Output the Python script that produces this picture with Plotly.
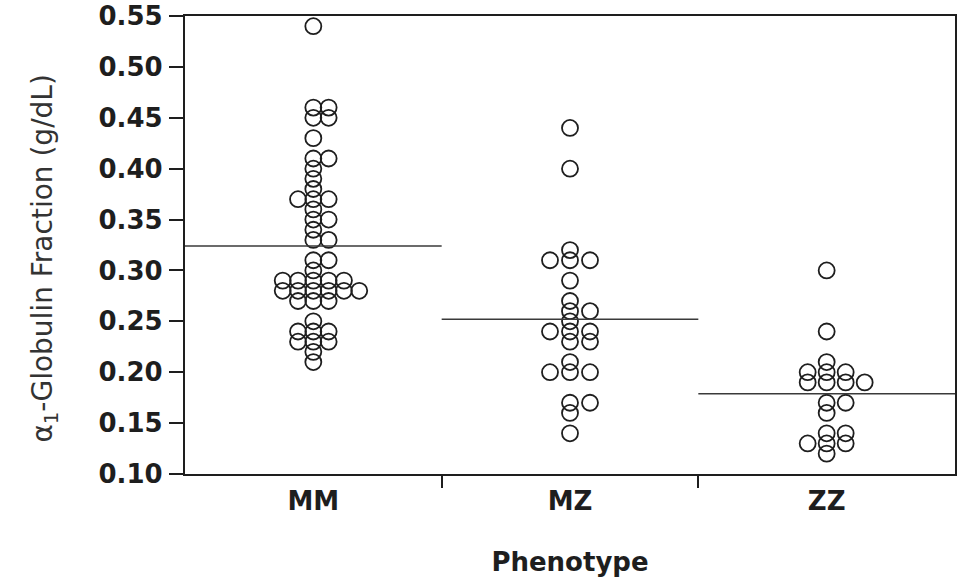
import plotly.graph_objects as go

# ---- data ----
phenotypes = ["MM", "MZ", "ZZ"]
mm_values = [0.54, 0.46, 0.46, 0.45, 0.45, 0.43, 0.41, 0.41, 0.40, 0.39, 0.38,
             0.37, 0.37, 0.37, 0.36, 0.35, 0.35, 0.34, 0.33, 0.33, 0.31, 0.31,
             0.30, 0.29, 0.29, 0.29, 0.29, 0.29, 0.28, 0.28, 0.28, 0.28, 0.28,
             0.28, 0.27, 0.27, 0.27, 0.25, 0.24, 0.24, 0.24, 0.23, 0.23, 0.23,
             0.22, 0.21]
mz_values = [0.44, 0.40, 0.32, 0.31, 0.31, 0.31, 0.29, 0.27, 0.26, 0.26, 0.25,
             0.24, 0.24, 0.24, 0.23, 0.23, 0.21, 0.20, 0.20, 0.20, 0.17, 0.17,
             0.16, 0.14]
zz_values = [0.30, 0.24, 0.21, 0.20, 0.20, 0.20, 0.19, 0.19, 0.19, 0.19, 0.17,
             0.17, 0.16, 0.14, 0.14, 0.13, 0.13, 0.13, 0.12]
y_ticks = [0.10, 0.15, 0.20, 0.25, 0.30, 0.35, 0.40, 0.45, 0.50, 0.55]
y_title = "α<sub>1</sub>-Globulin Fraction (g/dL)"
x_title = "Phenotype"

groups = [mm_values, mz_values, zz_values]

# ---- layout / style constants ----
PLOT_W = 770.0                     # px width of plotting area
PX_PER_UNIT = PLOT_W / 3.0
SPREAD_PX = [15.3, 20.0, 19.0]     # horizontal spacing of tied points per group
INK = "#1e1e1e"
FONT = "DejaVu Sans"


def swarm_columns(vals):
    """Spread identical values sideways: 0, +1, -1, +2, -2, +3 ..."""
    seen = {}
    cols = []
    for v in vals:
        k = seen.get(v, 0)
        seen[v] = k + 1
        c = (k + 1) // 2
        cols.append(c if k % 2 == 1 else -c)
    return cols


fig = go.Figure()

for gi, vals in enumerate(groups):
    cols = swarm_columns(vals)
    step = SPREAD_PX[gi] / PX_PER_UNIT
    xs = [gi + 0.5 + c * step for c in cols]
    fig.add_trace(go.Scatter(
        x=xs, y=vals, mode="markers",
        marker=dict(symbol="circle-open", size=16, color=INK,
                    line=dict(width=1.8, color=INK)),
        hoverinfo="y", showlegend=False, cliponaxis=False))
    mean = sum(vals) / len(vals)
    fig.add_trace(go.Scatter(
        x=[gi, gi + 1], y=[mean, mean], mode="lines",
        line=dict(color="#3a3a3a", width=1.5),
        hoverinfo="skip", showlegend=False))

fig.update_layout(
    width=967, height=577,
    margin=dict(l=185, r=12, t=16, b=103, autoexpand=False),
    paper_bgcolor="white", plot_bgcolor="white",
    font=dict(family=FONT, color=INK),
    xaxis=dict(
        range=[0, 3], showgrid=False, zeroline=False, automargin=False,
        showline=True, linewidth=2.2, linecolor=INK, mirror=True,
        tickmode="array", tickvals=[0.5, 1.5, 2.5], ticktext=phenotypes,
        ticks="", ticklabelstandoff=3,
        tickfont=dict(family=FONT, size=26, weight="bold", color=INK),
        minor=dict(tickmode="array", tickvals=[1, 2], ticks="outside",
                   ticklen=12, tickwidth=2, tickcolor=INK),
        title=dict(text=x_title, standoff=42,
                   font=dict(family=FONT, size=26, weight="bold", color=INK)),
    ),
    yaxis=dict(
        range=[0.10, 0.55], showgrid=False, zeroline=False, automargin=False,
        showline=True, linewidth=2.2, linecolor=INK, mirror=True,
        tickmode="array", tickvals=y_ticks, tickformat=".2f",
        ticks="outside", ticklen=14, tickwidth=2, tickcolor=INK,
        ticklabelstandoff=1,
        tickfont=dict(family=FONT, size=26, weight="bold", color=INK),
    ),
    annotations=[dict(
        text=y_title, textangle=-90, showarrow=False,
        xref="paper", yref="paper", x=-0.182, y=0.47,
        xanchor="center", yanchor="middle",
        font=dict(family=FONT, size=28, color="#333333"))],
)

fig.write_html("out.html", config={"displayModeBar": False},
               post_script="document.body.style.margin='0';")
